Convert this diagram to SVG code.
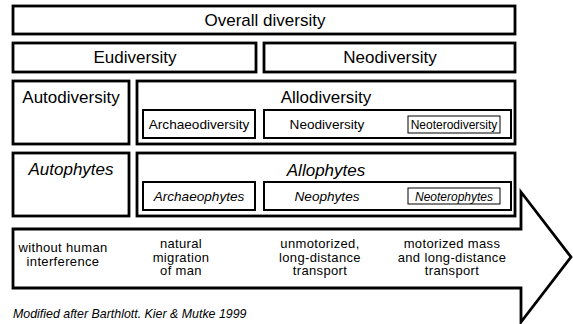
<svg xmlns="http://www.w3.org/2000/svg" width="573" height="324" viewBox="0 0 573 324">
<style>
.box{fill:#fff;stroke:#000;stroke-width:2.8}
.inner{fill:#fff;stroke:#000;stroke-width:2}
.small{fill:#fff;stroke:#000;stroke-width:1}
text{font-family:"Liberation Sans",Arial,sans-serif;fill:#000;text-anchor:middle}
.l{font-size:17px}
.m{font-size:13.6px}
.a{font-size:13px;letter-spacing:0.35px}
.s{font-size:12px}
.f{font-size:12.4px}
.i{font-style:italic}
</style>
<rect width="573" height="324" fill="#fff"/>
<g id="arrow">
<polygon class="box" points="13,229 521,229 521,192 571,257 521,322 521,288 13,288"/>
<text class="a" x="63" y="252">without human</text>
<text class="a" x="63" y="265.5">interference</text>
<text class="a" x="181" y="248">natural</text>
<text class="a" x="181" y="261.5">migration</text>
<text class="a" x="181" y="275">of man</text>
<text class="a" x="320" y="248">unmotorized,</text>
<text class="a" x="320" y="261.5">long-distance</text>
<text class="a" x="320" y="275">transport</text>
<text class="a" x="452" y="248">motorized mass</text>
<text class="a" x="452" y="261.5">and long-distance</text>
<text class="a" x="452" y="275">transport</text>
</g>
<g id="overall">
<rect class="box" x="13" y="6" width="502" height="28"/>
<text class="l" x="265" y="26">Overall diversity</text>
</g>
<g id="eudiversity">
<rect class="box" x="13" y="43" width="243" height="29"/>
<text class="l" x="135" y="63">Eudiversity</text>
</g>
<g id="neodiversity">
<rect class="box" x="264" y="43" width="251" height="29"/>
<text class="l" x="390" y="63">Neodiversity</text>
</g>
<g id="autodiversity">
<rect class="box" x="13" y="81" width="116" height="63"/>
<text class="l" x="71" y="103">Autodiversity</text>
</g>
<g id="allodiversity">
<rect class="box" x="137" y="81" width="378" height="63"/>
<text class="l" x="326" y="103">Allodiversity</text>
</g>
<g id="archaeodiversity">
<rect class="inner" x="143" y="110" width="112" height="28"/>
<text class="m" x="199" y="129">Archaeodiversity</text>
</g>
<g id="neodiversity-inner">
<rect class="inner" x="264" y="110" width="247" height="28"/>
<text class="m" x="327" y="129">Neodiversity</text>
</g>
<g id="neoterodiversity">
<rect class="small" x="408" y="116" width="92" height="17"/>
<text class="s" x="454" y="129">Neoterodiversity</text>
</g>
<g id="autophytes">
<rect class="box" x="13" y="153" width="116" height="63"/>
<text class="l i" x="71" y="175">Autophytes</text>
</g>
<g id="allophytes">
<rect class="box" x="137" y="153" width="378" height="63"/>
<text class="l i" x="326" y="176">Allophytes</text>
</g>
<g id="archaeophytes">
<rect class="inner" x="143" y="182" width="112" height="28"/>
<text class="m i" x="199" y="201">Archaeophytes</text>
</g>
<g id="neophytes">
<rect class="inner" x="264" y="182" width="247" height="28"/>
<text class="m i" x="327" y="201">Neophytes</text>
</g>
<g id="neoterophytes">
<rect class="small" x="408" y="188" width="92" height="16"/>
<text class="s i" x="454" y="200.5">Neoterophytes</text>
</g>
<g id="connectors"></g>
<text class="f i" x="13" y="318" style="text-anchor:start">Modified after Barthlott. Kier &amp; Mutke 1999</text>
</svg>
